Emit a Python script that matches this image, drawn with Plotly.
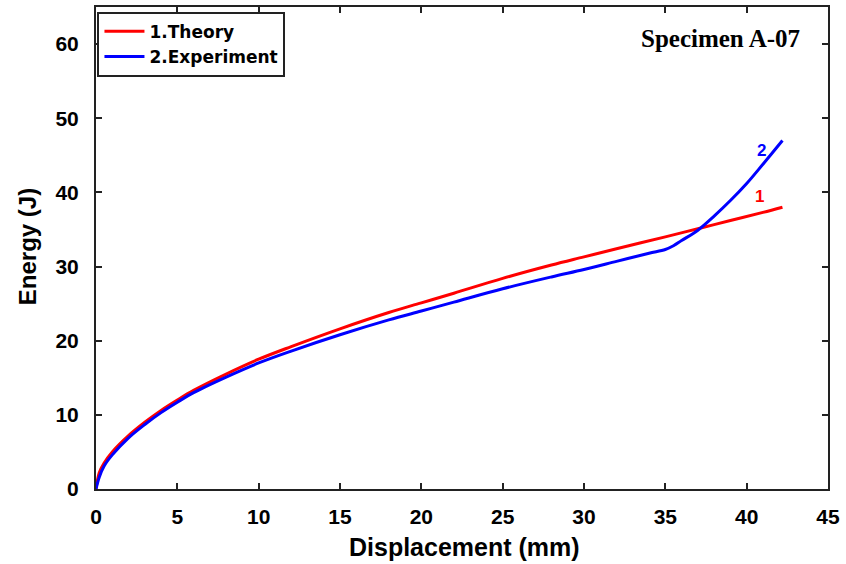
import plotly.graph_objects as go

# Displacement (mm) and energy (J) for each series
theory_x = [0, 0.2, 0.5, 1, 2, 3, 4, 5, 6, 8, 10, 12, 15, 18, 20, 22, 25, 28, 30, 32, 35, 37, 39, 41, 42.2]
theory_y = [0, 2.2, 3.5, 5.0, 7.2, 9.0, 10.6, 12.0, 13.3, 15.5, 17.5, 19.2, 21.6, 23.8, 25.1, 26.4,
            28.4, 30.2, 31.3, 32.4, 34.0, 35.1, 36.2, 37.3, 38.0]

exp_x = [0, 0.2, 0.5, 1, 2, 3, 4, 5, 6, 8, 10, 12, 15, 18, 20, 22, 25, 28, 30, 32, 34, 35,
         35.5, 36, 37, 38, 39, 40, 41, 42.2]
exp_y = [0, 1.6, 3.1, 4.6, 6.9, 8.7, 10.3, 11.7, 13.0, 15.1, 17.0, 18.6, 20.8, 22.8, 24.0, 25.2,
         27.0, 28.6, 29.6, 30.7, 31.8, 32.3, 32.8, 33.5, 34.9, 36.8, 38.9, 41.2, 43.8, 47.0]

x_ticks = [0, 5, 10, 15, 20, 25, 30, 35, 40, 45]
y_ticks = [0, 10, 20, 30, 40, 50, 60]

RED = "#ff0000"
BLUE = "#0000ff"
INK = "#222222"
SANS = "Liberation Sans"

fig = go.Figure()
fig.add_trace(go.Scatter(x=theory_x, y=theory_y, mode="lines", name="1.Theory",
                         line=dict(color=RED, width=3, shape="spline")))
fig.add_trace(go.Scatter(x=exp_x, y=exp_y, mode="lines", name="2.Experiment",
                         line=dict(color=BLUE, width=3, shape="spline")))

# curve numbers near the right ends
fig.add_annotation(x=40.8, y=39.4, text="1", showarrow=False,
                   font=dict(family=SANS, size=17, color=RED, weight="bold"))
fig.add_annotation(x=40.9, y=45.6, text="2", showarrow=False,
                   font=dict(family=SANS, size=17, color=BLUE, weight="bold"))
fig.add_annotation(x=0.965, y=0.934, xref="paper", yref="paper", xanchor="right", yanchor="middle",
                   text="Specimen A-07", showarrow=False,
                   font=dict(family="Liberation Serif", size=25, color="black", weight="bold"))

# axis titles
fig.add_annotation(x=0.503, y=-0.12, xref="paper", yref="paper", xanchor="center", yanchor="middle",
                   text="Displacement (mm)", showarrow=False,
                   font=dict(family=SANS, size=25, color="black", weight="bold"))
fig.add_annotation(x=-0.094, y=0.502, xref="paper", yref="paper", xanchor="center", yanchor="middle",
                   text="Energy (J)", textangle=-90, showarrow=False,
                   font=dict(family=SANS, size=24, color="black", weight="bold"))

axis_common = dict(showline=True, linecolor=INK, linewidth=2, mirror="allticks",
                   ticks="inside", ticklen=6, tickwidth=2, tickcolor=INK,
                   showgrid=False, zeroline=False, automargin=False,
                   tickfont=dict(family=SANS, size=21, color="black", weight="bold"))

fig.update_xaxes(range=[0, 45], tickvals=x_ticks, ticklabelstandoff=8, **axis_common)
fig.update_yaxes(range=[0, 65], tickvals=y_ticks, ticklabelstandoff=11, **axis_common)

fig.update_layout(
    width=846, height=564,
    margin=dict(l=96, r=18, t=7, b=75),
    plot_bgcolor="white", paper_bgcolor="white",
    showlegend=True,
    legend=dict(x=0.002, y=0.99, xanchor="left", yanchor="top",
                bordercolor=INK, borderwidth=2, bgcolor="white",
                font=dict(family="DejaVu Sans", size=17, color="black", weight="bold"),
                tracegroupgap=0, itemwidth=40),
)

fig.write_html("out.html")
